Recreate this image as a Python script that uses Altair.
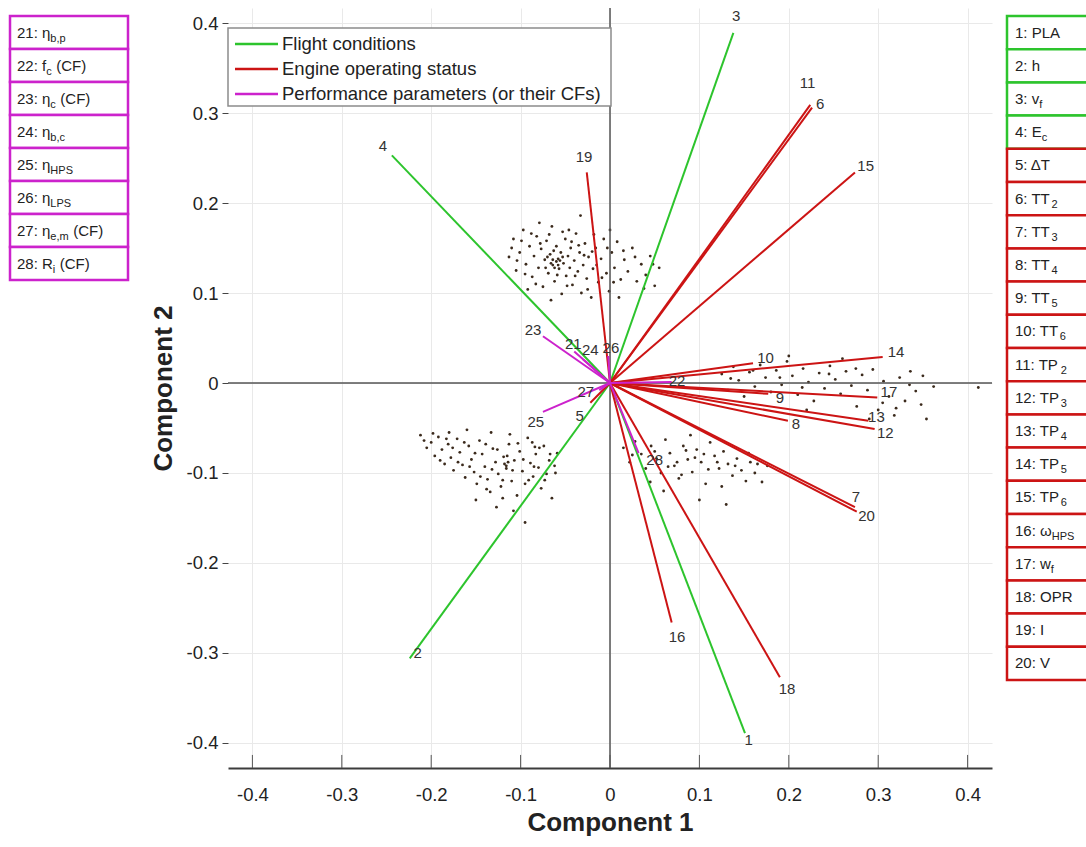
import altair as alt
import pandas as pd

# ---------------- data ----------------
vec_ids = [str(i) for i in range(1, 29)]
vec_x = [0.151, -0.224, 0.138, -0.244, -0.022, 0.226, 0.274, 0.199, 0.177, 0.160,
         0.224, 0.296, 0.289, 0.305, 0.274, 0.069, 0.299, 0.190, -0.026, 0.276,
         -0.040, 0.069, -0.075, -0.030, -0.075, -0.002, -0.012, 0.032]
vec_y = [-0.389, -0.306, 0.389, 0.253, -0.022, 0.306, -0.138, -0.042, -0.012, 0.022,
         0.309, -0.051, -0.042, 0.029, 0.234, -0.266, -0.016, -0.327, 0.234, -0.143,
         0.035, 0.001, 0.052, 0.026, -0.032, 0.030, -0.008, -0.078]
lab_x = [0.155, -0.215, 0.141, -0.254, -0.034, 0.235, 0.275, 0.208, 0.190, 0.174,
         0.221, 0.308, 0.298, 0.320, 0.286, 0.075, 0.312, 0.198, -0.029, 0.287,
         -0.041, 0.075, -0.086, -0.022, -0.083, 0.001, -0.027, 0.050]
lab_y = [-0.397, -0.300, 0.408, 0.263, -0.037, 0.310, -0.127, -0.046, -0.017, 0.028,
         0.333, -0.056, -0.038, 0.034, 0.241, -0.282, -0.010, -0.340, 0.251, -0.148,
         0.043, 0.002, 0.059, 0.037, -0.043, 0.039, -0.010, -0.086]
groups = ["Flight conditions", "Engine operating status",
          "Performance parameters (or their CFs)"]
vec_group = [groups[0]] * 4 + [groups[1]] * 16 + [groups[2]] * 8

# scores (scatter) - four clouds
up_x = [-0.108, -0.101, -0.097, -0.094, -0.090, -0.087, -0.085, -0.082, -0.080, -0.077,
        -0.075, -0.073, -0.071, -0.069, -0.067, -0.065, -0.064, -0.062, -0.060, -0.058,
        -0.057, -0.055, -0.054, -0.052, -0.050, -0.049, -0.047, -0.045, -0.044, -0.042,
        -0.040, -0.038, -0.036, -0.034, -0.032, -0.030, -0.028, -0.026, -0.024, -0.021,
        -0.019, -0.016, -0.013, -0.010, -0.007, -0.004, -0.001, 0.002, 0.005, 0.008,
        0.012, 0.016, 0.020, 0.025, 0.030, 0.035, 0.040, 0.045, 0.050, 0.055,
        -0.113, -0.105, -0.092, -0.079, -0.066, -0.046, -0.033, -0.018, 0.000, 0.010,
        -0.060, -0.058, -0.056, -0.062, -0.053,
        -0.110, -0.104, -0.099, -0.095, -0.088, -0.083, -0.078, -0.072, -0.068, -0.063,
        -0.059, -0.053, -0.048, -0.043, -0.039, -0.035, -0.029, -0.025, -0.020, -0.015,
        -0.009, -0.003, 0.004, 0.015, 0.028, 0.038, 0.048, -0.070, -0.066, -0.064]
up_y = [0.160, 0.145, 0.170, 0.132, 0.152, 0.118, 0.141, 0.163, 0.128, 0.149,
        0.107, 0.137, 0.158, 0.122, 0.143, 0.174, 0.131, 0.113, 0.152, 0.138,
        0.127, 0.145, 0.099, 0.133, 0.160, 0.119, 0.141, 0.128, 0.150, 0.109,
        0.136, 0.166, 0.124, 0.145, 0.100, 0.131, 0.155, 0.116, 0.140, 0.095,
        0.127, 0.150, 0.112, 0.138, 0.160, 0.122, 0.102, 0.145, 0.128, 0.157,
        0.115, 0.137, 0.124, 0.150, 0.113, 0.132, 0.120, 0.141, 0.108, 0.128,
        0.140, 0.125, 0.104, 0.178, 0.092, 0.170, 0.186, 0.165, 0.170, 0.095,
        0.135, 0.131, 0.136, 0.128, 0.140,
        0.150, 0.136, 0.158, 0.121, 0.166, 0.110, 0.155, 0.128, 0.165, 0.147,
        0.120, 0.168, 0.108, 0.157, 0.119, 0.153, 0.142, 0.104, 0.146, 0.131,
        0.117, 0.150, 0.112, 0.147, 0.140, 0.105, 0.132, 0.140, 0.133, 0.137]
ll_x = [-0.212, -0.205, -0.200, -0.196, -0.192, -0.188, -0.185, -0.181, -0.178, -0.175,
        -0.171, -0.168, -0.165, -0.162, -0.158, -0.155, -0.152, -0.149, -0.146, -0.143,
        -0.140, -0.137, -0.134, -0.131, -0.128, -0.125, -0.122, -0.119, -0.116, -0.113,
        -0.110, -0.107, -0.104, -0.101, -0.098, -0.095, -0.092, -0.089, -0.086, -0.083,
        -0.080, -0.077, -0.074, -0.071, -0.068, -0.065, -0.062, -0.059, -0.150, -0.127,
        -0.108, -0.095, -0.180, -0.160, -0.133, -0.112, -0.118, -0.116, -0.114, -0.087,
        -0.084,
        -0.208, -0.198, -0.190, -0.183, -0.176, -0.170, -0.163, -0.157, -0.151, -0.145,
        -0.139, -0.132, -0.126, -0.120, -0.115, -0.109, -0.103, -0.097, -0.091, -0.085,
        -0.079, -0.073, -0.067, -0.061, -0.138, -0.120]
ll_y = [-0.058, -0.072, -0.066, -0.081, -0.060, -0.074, -0.090, -0.068, -0.083, -0.097,
        -0.062, -0.077, -0.091, -0.105, -0.070, -0.085, -0.099, -0.112, -0.064, -0.079,
        -0.093, -0.107, -0.121, -0.073, -0.088, -0.101, -0.115, -0.082, -0.095, -0.068,
        -0.109, -0.086, -0.125, -0.076, -0.098, -0.112, -0.061, -0.089, -0.104, -0.079,
        -0.094, -0.117, -0.070, -0.101, -0.086, -0.128, -0.092, -0.078, -0.130, -0.138,
        -0.142, -0.155, -0.055, -0.052, -0.055, -0.057, -0.090, -0.092, -0.088, -0.066,
        -0.071,
        -0.064, -0.056, -0.086, -0.062, -0.072, -0.088, -0.066, -0.093, -0.078, -0.104,
        -0.068, -0.096, -0.074, -0.108, -0.081, -0.097, -0.067, -0.085, -0.108, -0.093,
        -0.072, -0.108, -0.079, -0.100, -0.118, -0.128]
lr_x = [0.015, 0.022, 0.028, 0.035, 0.040, 0.046, 0.052, 0.057, 0.062, 0.067,
        0.072, 0.077, 0.082, 0.087, 0.092, 0.097, 0.102, 0.107, 0.112, 0.117,
        0.122, 0.127, 0.132, 0.137, 0.142, 0.147, 0.152, 0.157, 0.162, 0.170,
        0.176, 0.090, 0.060, 0.100, 0.130, 0.045, 0.080, 0.110, 0.095, 0.075,
        0.025, 0.050, 0.065, 0.085, 0.105, 0.120, 0.140, 0.155, 0.165, 0.125]
lr_y = [-0.072, -0.088, -0.065, -0.079, -0.095, -0.070, -0.084, -0.100, -0.063, -0.078,
        -0.092, -0.106, -0.070, -0.085, -0.099, -0.074, -0.088, -0.112, -0.066, -0.081,
        -0.095, -0.076, -0.090, -0.103, -0.084, -0.097, -0.109, -0.088, -0.100, -0.110,
        -0.092, -0.058, -0.120, -0.130, -0.135, -0.110, -0.102, -0.096, -0.083, -0.088,
        -0.080, -0.076, -0.093, -0.075, -0.079, -0.088, -0.092, -0.078, -0.090, -0.115]
rb_x = [0.125, 0.132, 0.138, 0.144, 0.150, 0.156, 0.162, 0.168, 0.174, 0.180,
        0.186, 0.192, 0.198, 0.204, 0.210, 0.216, 0.222, 0.228, 0.234, 0.240,
        0.246, 0.252, 0.258, 0.264, 0.270, 0.276, 0.282, 0.288, 0.294, 0.300,
        0.306, 0.312, 0.318, 0.324, 0.330, 0.336, 0.342, 0.348, 0.354, 0.362,
        0.412, 0.200, 0.260, 0.220, 0.290,
        0.135, 0.160, 0.190, 0.215, 0.245, 0.275, 0.305, 0.335, 0.350, 0.320]
rb_y = [0.010, -0.008, 0.018, 0.003, -0.015, 0.012, -0.004, 0.020, 0.006, -0.010,
        0.014, -0.002, 0.024, 0.008, -0.013, 0.016, 0.001, -0.020, 0.011, -0.006,
        0.019, 0.004, -0.012, 0.013, -0.003, -0.026, 0.009, -0.008, 0.015, -0.030,
        0.002, -0.015, -0.036, 0.006, -0.020, 0.013, -0.009, -0.024, -0.040, -0.004,
        -0.005, 0.030, 0.027, -0.030, -0.040,
        0.005, 0.014, 0.006, -0.005, 0.010, 0.016, -0.022, -0.002, 0.008, -0.028]

tick_vals = [-0.4, -0.3, -0.2, -0.1, 0.0, 0.1, 0.2, 0.3, 0.4]

left_main = ["21: η", "22: f", "23: η", "24: η", "25: η", "26: η", "27: η", "28: R"]
left_sub = ["b,p", "c", "c", "b,c", "HPS", "LPS", "e,m", "i"]
left_suf = ["", "(CF)", "(CF)", "", "", "", "(CF)", "(CF)"]

right_main = ["1: PLA", "2: h", "3: v", "4: E", "5: ΔT", "6: TT", "7: TT", "8: TT",
              "9: TT", "10: TT", "11: TP", "12: TP", "13: TP", "14: TP", "15: TP",
              "16: ω", "17: w", "18: OPR", "19: I", "20: V"]
right_sub = ["", "", "f", "c", "", "2", "3", "4", "5", "6", "2", "3", "4", "5", "6",
             "HPS", "f", "", "", ""]
right_group = [groups[0]] * 4 + [groups[1]] * 16

# ---------------- styling / layout ----------------
COLORS = ["#2dc42d", "#cc1414", "#cc22cc"]
FONT = "Liberation Sans"
W, H = 764, 760
PAD_L, PAD_T = 228, 8
X_DOM = [-0.4273, 0.4273]
Y_DOM = [-0.4278, 0.4167]

AW = {'0': 556, '1': 556, '2': 556, '3': 556, '4': 556, '5': 556, '6': 556, '7': 556,
      '8': 556, '9': 556, ':': 278, ' ': 278, 'η': 556, 'f': 278, 'R': 722, 'P': 667,
      'L': 556, 'A': 667, 'h': 556, 'v': 500, 'E': 667, 'Δ': 668, 'T': 611, 'w': 722,
      'O': 778, 'I': 278, 'V': 667, 'ω': 781, '(': 333, ')': 333, 'C': 722, 'F': 611,
      'H': 722, 'S': 667, 'c': 500, 'b': 556, 'p': 556, ',': 278, 'e': 556, 'm': 833,
      'i': 222}


def tw(s, size):
    return sum(AW.get(ch, 556) for ch in s) / 1000.0 * size


BOX_FS, SUB_FS = 15, 11
SPACE = 4.5

xs = alt.Scale(domain=X_DOM, nice=False, zero=False)
ys = alt.Scale(domain=Y_DOM, nice=False, zero=False)
page_x = alt.Scale(domain=[0, 1086], range=[-PAD_L, 1086 - PAD_L], nice=False, zero=False)
page_y = alt.Scale(domain=[0, 847], range=[-PAD_T, 847 - PAD_T], nice=False, zero=False)

label_expr = ("datum.value == 0 ? '0' : (datum.value < 0 ? '-' + format(-datum.value, '.1f')"
              " : format(datum.value, '.1f'))")

X_AXIS = alt.Axis(
    values=tick_vals, labelExpr=label_expr, title="Component 1", orient="bottom",
    grid=True, gridColor="#e9e9e9", gridWidth=1, ticks=False,
    domain=True, domainColor="#3c3c3c", domainWidth=2,
    labelFontSize=18.5, labelColor="#222", labelPadding=17, labelFont=FONT,
    titleFontSize=26, titleFontWeight="bold", titleColor="#222", titlePadding=6,
    titleFont=FONT)
Y_AXIS = alt.Axis(
    values=tick_vals, labelExpr=label_expr, title="Component 2", orient="left",
    grid=True, gridColor="#e9e9e9", gridWidth=1, ticks=True, tickSize=6,
    tickColor="#444", domain=False,
    labelFontSize=18.5, labelColor="#222", labelPadding=4, labelFont=FONT,
    titleFontSize=26, titleFontWeight="bold", titleColor="#222", titlePadding=10,
    titleFont=FONT)

# ---------------- main plot ----------------
pts = pd.DataFrame({"x": up_x + ll_x + lr_x + rb_x, "y": up_y + ll_y + lr_y + rb_y})
vec = pd.DataFrame({"id": vec_ids, "x": vec_x, "y": vec_y, "lx": lab_x, "ly": lab_y,
                    "group": vec_group})
vec["x0"] = 0.0
vec["y0"] = 0.0
ticks = pd.DataFrame({"t": tick_vals})
ticks["y0"] = Y_DOM[0]
ticks["y1"] = Y_DOM[0] + 0.0145
zero = pd.DataFrame({"v": [0.0]})

points = alt.Chart(pts).mark_circle(size=8, color="#3b2a1c", opacity=1).encode(
    x=alt.X("x:Q", scale=xs, axis=X_AXIS),
    y=alt.Y("y:Q", scale=ys, axis=Y_AXIS),
)

zx = alt.Chart(zero).mark_rule(color="#555", strokeWidth=1.5).encode(
    x=alt.X("v:Q", scale=xs, axis=X_AXIS))
zy = alt.Chart(zero).mark_rule(color="#555", strokeWidth=1.5).encode(
    y=alt.Y("v:Q", scale=ys, axis=Y_AXIS))

in_ticks = alt.Chart(ticks).mark_rule(color="#555", strokeWidth=1).encode(
    x=alt.X("t:Q", scale=xs, axis=X_AXIS),
    y=alt.Y("y0:Q", scale=ys, axis=Y_AXIS), y2="y1:Q")

lines = alt.Chart(vec).mark_rule().encode(
    x=alt.X("x0:Q", scale=xs, axis=X_AXIS), x2="x:Q",
    y=alt.Y("y0:Q", scale=ys, axis=Y_AXIS), y2="y:Q",
    color=alt.Color("group:N", scale=alt.Scale(domain=groups, range=COLORS), legend=None),
    strokeWidth=alt.StrokeWidth("group:N", scale=alt.Scale(domain=groups, range=[2, 2, 3]),
                                legend=None),
)

labels = alt.Chart(vec).mark_text(fontSize=15, font=FONT,
                                  color="#333", baseline="middle", align="center").encode(
    x=alt.X("lx:Q", scale=xs, axis=X_AXIS),
    y=alt.Y("ly:Q", scale=ys, axis=Y_AXIS),
    text="id:N")

main = alt.layer(points, zx, zy, in_ticks, lines, labels)

# ---------------- legend (drawn in page pixels) ----------------
LEG_X0, LEG_X1, LEG_Y0, LEG_Y1 = 228, 611, 28, 106
leg_box = pd.DataFrame({"x0": [LEG_X0], "x1": [LEG_X1], "y0": [LEG_Y0], "y1": [LEG_Y1]})
leg = pd.DataFrame({"group": groups})
leg["y"] = [44 + 25 * i for i in range(len(groups))]
leg["sx0"] = 235
leg["sx1"] = 278
leg["tx"] = 282

leg_rect = alt.Chart(leg_box).mark_rect(fill="white", stroke="#8c8c8c", strokeWidth=1.5).encode(
    x=alt.X("x0:Q", scale=page_x, axis=None), x2="x1:Q",
    y=alt.Y("y0:Q", scale=page_y, axis=None), y2="y1:Q")
leg_sw = alt.Chart(leg).mark_rule(strokeWidth=2.5).encode(
    x=alt.X("sx0:Q", scale=page_x, axis=None), x2="sx1:Q",
    y=alt.Y("y:Q", scale=page_y, axis=None),
    color=alt.Color("group:N", scale=alt.Scale(domain=groups, range=COLORS), legend=None))
leg_tx = alt.Chart(leg).mark_text(fontSize=18.5, font=FONT, color="#222", align="left",
                                  baseline="middle").encode(
    x=alt.X("tx:Q", scale=page_x, axis=None),
    y=alt.Y("y:Q", scale=page_y, axis=None),
    text="group:N")
legend = alt.layer(leg_rect, leg_sw, leg_tx)


# ---------------- side boxes ----------------
def box_frame(mains, subs, sufs, x0, x1, tx):
    df = pd.DataFrame({"main": mains, "sub": subs, "suf": sufs})
    df["row"] = [str(i) for i in range(len(mains))]
    df["x0"] = x0
    df["x1"] = x1
    df["tx"] = tx
    df["sx"] = [tx + tw(m, BOX_FS) + (1.5 if s.isdigit() else 0) for m, s in zip(mains, subs)]
    df["fx"] = [sx + tw(s, SUB_FS) + SPACE for sx, s in zip(df["sx"], subs)]
    return df


def box_chart(df, top, bottom, stroke_enc):
    yb = alt.Scale(domain=list(df["row"]), range=[top - PAD_T, bottom - PAD_T],
                   paddingInner=0, paddingOuter=0)
    rect = alt.Chart(df).mark_rect(fill="white", strokeWidth=2.5).encode(
        x=alt.X("x0:Q", scale=page_x, axis=None), x2="x1:Q",
        y=alt.Y("row:O", scale=yb, axis=None),
        stroke=stroke_enc)
    t_main = alt.Chart(df).mark_text(fontSize=BOX_FS, font=FONT, color="#222",
                                     align="left", baseline="middle").encode(
        x=alt.X("tx:Q", scale=page_x, axis=None),
        y=alt.Y("row:O", scale=yb, axis=None), text="main:N")
    t_sub = alt.Chart(df).mark_text(fontSize=SUB_FS, font=FONT, color="#222",
                                    align="left", baseline="middle", dy=6).encode(
        x=alt.X("sx:Q", scale=page_x, axis=None),
        y=alt.Y("row:O", scale=yb, axis=None), text="sub:N")
    t_suf = alt.Chart(df).mark_text(fontSize=BOX_FS, font=FONT, color="#222",
                                    align="left", baseline="middle").encode(
        x=alt.X("fx:Q", scale=page_x, axis=None),
        y=alt.Y("row:O", scale=yb, axis=None), text="suf:N")
    return alt.layer(rect, t_main, t_sub, t_suf)


ldf = box_frame(left_main, left_sub, left_suf, 10, 128, 17)
rdf = box_frame(right_main, right_sub, [""] * len(right_main), 1007, 1110, 1015)
rdf["group"] = right_group

left_boxes = box_chart(ldf, 16, 280, alt.value("#cc22cc"))
right_boxes = box_chart(
    rdf, 16, 680,
    alt.Stroke("group:N", scale=alt.Scale(domain=groups[:2], range=COLORS[:2]), legend=None))

chart = alt.layer(main, legend, left_boxes, right_boxes).resolve_scale(
    x="independent", y="independent", color="independent", stroke="independent",
    strokeWidth="independent"
).properties(
    width=W, height=H,
    padding={"left": PAD_L, "top": PAD_T, "right": 1086 - PAD_L - W, "bottom": 847 - PAD_T - H},
    autosize=alt.AutoSizeParams(type="none"),
    background="white",
).configure(font=FONT).configure_view(stroke=None)

chart.save("out.html", embed_options={"renderer": "svg", "actions": False})
